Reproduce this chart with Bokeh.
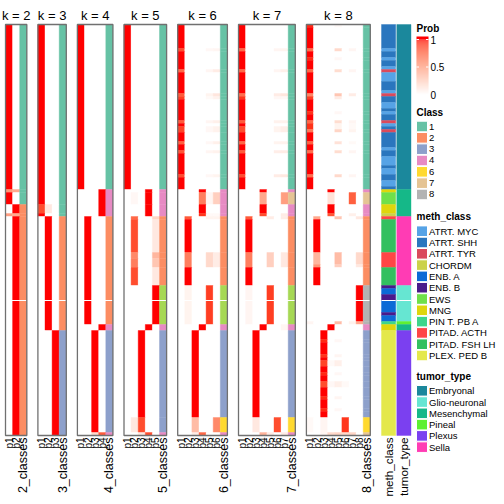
import numpy as np
from bokeh.plotting import figure
from bokeh.models import Range1d, ColumnDataSource
from bokeh.embed import file_html
from bokeh.resources import INLINE
from bokeh.core.properties import value

# ---------------- data ----------------
N_ROWS = 137

# per k: segments of consecutive rows -> (n_rows, class, [p1..pk])
k2_segments = [
    (55, 1, [1, 0]), (1, 1, [0.55, 0.45]), (4, 1, [1, 0]), (3, 2, [0, 1]),
    (1, 2, [0.5, 0.45]), (73, 2, [0, 1]),
]
k3_segments = [
    (60, 1, [1, 0, 0]), (3, 1, [0.85, 0.12, 0]), (1, 1, [1, 0, 0]),
    (38, 2, [0, 1, 0]), (35, 3, [0, 0, 1]),
]
k4_segments = [
    (55, 1, [1, 0, 0, 0]), (9, 4, [0, 0, 0, 1]), (36, 2, [0, 1, 0, 0]),
    (2, 4, [0, 0, 0, 1]), (34, 3, [0, 0, 1, 0]), (1, 4, [0, 0, 0.2, 0.8]),
]
k5_segments = [
    (55, 1, [1, 0, 0, 0, 0]), (1, 4, [0, 0, 0, 1, 0]), (4, 4, [0, 0.04, 0, 1, 0]),
    (4, 4, [0, 0, 0, 1, 0]), (1, 2, [0, 0.75, 0, 0, 0.22]), (11, 2, [0, 0.85, 0, 0, 0.12]),
    (2, 2, [0, 0.6, 0, 0, 0.38]), (3, 2, [0, 0.65, 0, 0, 0.3]), (6, 2, [0, 0.85, 0, 0, 0.12]),
    (13, 5, [0, 0, 0, 0, 1]), (2, 4, [0, 0, 0, 1, 0]), (29, 3, [0, 0, 1, 0, 0]),
    (5, 3, [0, 0.12, 0.85, 0, 0]), (1, 4, [0, 0, 0.12, 0.85, 0]),
]
k6_segments = [
    (8, 1, [1, 0, 0, 0, 0, 0]), (1, 1, [0.85, 0, 0, 0, 0.04, 0.05]), (6, 1, [1, 0, 0, 0, 0, 0]),
    (1, 1, [0.75, 0, 0, 0, 0.05, 0.1]), (7, 1, [1, 0, 0, 0, 0, 0]),
    (1, 1, [0.8, 0, 0, 0, 0.06, 0.13]), (1, 1, [0.9, 0, 0, 0, 0.03, 0.07]),
    (7, 1, [1, 0, 0, 0, 0, 0]), (1, 1, [0.8, 0, 0, 0, 0.05, 0.08]), (1, 1, [1, 0, 0, 0, 0, 0]),
    (2, 1, [0.88, 0, 0, 0, 0.04, 0.07]), (3, 1, [1, 0, 0, 0, 0, 0]),
    (1, 1, [0.78, 0, 0, 0, 0.04, 0.08]), (2, 1, [1, 0, 0, 0, 0, 0]),
    (1, 1, [0.82, 0, 0, 0, 0.05, 0.07]), (7, 1, [1, 0, 0, 0, 0, 0]),
    (1, 1, [0.85, 0, 0, 0, 0.04, 0.06]), (4, 1, [1, 0, 0, 0, 0, 0]),
    (1, 4, [0, 0, 0, 1, 0, 0]), (4, 4, [0, 0, 0, 0.65, 0.05, 0.25]), (3, 4, [0, 0, 0, 1, 0, 0]),
    (1, 4, [0, 0, 0, 0.92, 0.03, 0.03]), (1, 2, [0, 0.8, 0, 0, 0.06, 0.06]),
    (11, 2, [0, 1, 0, 0, 0, 0]), (5, 2, [0, 0.65, 0, 0, 0.2, 0.1]), (6, 2, [0, 1, 0, 0, 0, 0]),
    (13, 5, [0, 0.06, 0, 0, 0.9, 0]), (2, 4, [0, 0, 0, 1, 0, 0]), (29, 3, [0, 0, 1, 0, 0, 0]),
    (5, 6, [0, 0, 0.35, 0, 0, 0.6]), (1, 4, [0, 0, 0.1, 0.75, 0, 0]),
]
k7_segments = [
    (8, 1, [1, 0, 0, 0, 0, 0, 0]), (1, 1, [0.75, 0, 0, 0, 0, 0.05, 0.06]),
    (6, 1, [1, 0, 0, 0, 0, 0, 0]), (1, 1, [0.75, 0, 0, 0, 0, 0.05, 0.08]),
    (7, 1, [1, 0, 0, 0, 0, 0, 0]), (1, 1, [0.72, 0, 0, 0, 0, 0.1, 0.13]),
    (1, 1, [0.92, 0, 0, 0, 0, 0.04, 0.04]), (7, 1, [1, 0, 0, 0, 0, 0, 0]),
    (1, 1, [0.8, 0, 0, 0, 0, 0.07, 0.07]), (1, 1, [1, 0, 0, 0, 0, 0, 0]),
    (2, 1, [0.85, 0, 0, 0, 0, 0.06, 0.09]), (3, 1, [1, 0, 0, 0, 0, 0, 0]),
    (1, 1, [0.75, 0, 0, 0, 0, 0.06, 0.07]), (2, 1, [1, 0, 0, 0, 0, 0, 0]),
    (1, 1, [0.8, 0, 0, 0, 0, 0.09, 0.1]), (7, 1, [1, 0, 0, 0, 0, 0, 0]),
    (1, 1, [0.85, 0, 0, 0, 0, 0.1, 0.12]), (4, 1, [1, 0, 0, 0, 0, 0, 0]),
    (1, 4, [0, 0, 0, 1, 0, 0, 0]), (4, 7, [0, 0, 0, 0.45, 0, 0, 0.5]),
    (3, 4, [0, 0, 0, 1, 0, 0, 0]), (1, 4, [0, 0, 0, 0.85, 0, 0, 0.1]),
    (1, 2, [0, 0.8, 0, 0, 0.1, 0, 0.1]), (11, 2, [0, 1, 0, 0, 0, 0, 0]),
    (5, 2, [0, 0.65, 0, 0, 0.25, 0, 0.12]), (6, 2, [0, 1, 0, 0, 0, 0, 0]),
    (13, 5, [0, 0.05, 0, 0, 0.9, 0, 0]), (2, 4, [0, 0, 0, 1, 0, 0, 0.05]),
    (29, 3, [0, 0, 1, 0, 0, 0, 0]), (5, 6, [0, 0, 0.12, 0, 0, 0.85, 0]),
    (1, 4, [0, 0, 0, 0.4, 0.1, 0, 0.1]),
]
k8_segments = [
    (1, 1, [0.95, 0, 0, 0, 0.03, 0, 0, 0]), (7, 1, [1, 0, 0, 0, 0, 0, 0, 0]),
    (1, 1, [0.72, 0, 0, 0, 0.2, 0, 0.05, 0]), (2, 1, [1, 0, 0, 0, 0, 0, 0, 0]),
    (1, 1, [0.95, 0, 0, 0, 0.04, 0, 0, 0]), (3, 1, [1, 0, 0, 0, 0, 0, 0, 0]),
    (1, 1, [0.75, 0, 0, 0, 0.18, 0, 0.05, 0]), (7, 1, [1, 0, 0, 0, 0, 0, 0, 0]),
    (1, 1, [0.62, 0, 0, 0, 0.3, 0, 0.1, 0]), (1, 1, [0.9, 0, 0, 0, 0.1, 0, 0, 0]),
    (4, 1, [1, 0, 0, 0, 0, 0, 0, 0]), (1, 1, [0.93, 0, 0, 0, 0.04, 0, 0, 0]),
    (2, 1, [1, 0, 0, 0, 0, 0, 0, 0]), (1, 1, [0.75, 0, 0, 0, 0.18, 0, 0.05, 0]),
    (2, 1, [0.93, 0, 0, 0, 0.06, 0, 0.03, 0]), (1, 1, [0.68, 0, 0, 0, 0.22, 0, 0.06, 0]),
    (3, 1, [1, 0, 0, 0, 0, 0, 0, 0]), (1, 1, [0.78, 0, 0, 0, 0.15, 0, 0.03, 0]),
    (2, 1, [1, 0, 0, 0, 0, 0, 0, 0]), (1, 1, [0.72, 0, 0, 0, 0.18, 0, 0.05, 0]),
    (7, 1, [1, 0, 0, 0, 0, 0, 0, 0]), (1, 1, [0.72, 0, 0, 0, 0.2, 0, 0.05, 0]),
    (4, 1, [1, 0, 0, 0, 0, 0, 0, 0]),
    (1, 4, [0, 0, 0, 1, 0, 0, 0, 0]), (4, 7, [0, 0, 0, 0.15, 0, 0, 0.78, 0]),
    (3, 4, [0, 0, 0, 1, 0, 0, 0, 0]), (1, 4, [0, 0, 0, 0.82, 0, 0, 0.08, 0]),
    (1, 2, [0, 0.45, 0, 0, 0.3, 0, 0, 0.12]), (11, 2, [0, 1, 0, 0, 0, 0, 0, 0]),
    (4, 2, [0, 0.38, 0, 0, 0.35, 0, 0, 0.2]), (1, 2, [0, 0.55, 0, 0, 0.25, 0, 0, 0.12]),
    (6, 2, [0, 1, 0, 0, 0, 0, 0, 0]), (12, 8, [0, 0, 0, 0, 0, 0, 0, 1]),
    (1, 8, [0.05, 0, 0, 0, 0.35, 0, 0.07, 0.45]), (2, 4, [0, 0, 0, 1, 0, 0, 0, 0]),
    (3, 3, [0, 0, 1, 0, 0, 0, 0, 0]), (1, 3, [0, 0, 0.95, 0, 0.04, 0, 0, 0]),
    (4, 3, [0, 0, 1, 0, 0, 0, 0, 0]), (1, 3, [0, 0, 0.93, 0, 0.05, 0, 0, 0]),
    (1, 3, [0, 0, 1, 0, 0, 0, 0, 0]), (2, 3, [0, 0, 0.88, 0.03, 0.08, 0, 0, 0]),
    (2, 3, [0, 0, 1, 0, 0, 0, 0, 0]), (1, 3, [0, 0, 0.95, 0, 0.04, 0, 0, 0]),
    (2, 3, [0, 0, 1, 0, 0, 0, 0, 0]), (2, 3, [0, 0, 0.85, 0.04, 0.08, 0.03, 0, 0]),
    (3, 3, [0, 0, 1, 0, 0, 0, 0, 0]), (1, 3, [0, 0, 0.95, 0, 0.05, 0, 0, 0]),
    (3, 3, [0, 0, 1, 0, 0, 0, 0, 0]), (1, 3, [0, 0, 0.95, 0, 0.04, 0, 0, 0]),
    (2, 3, [0, 0, 1, 0, 0, 0, 0, 0]),
    (5, 6, [0.03, 0, 0.05, 0, 0, 0.92, 0, 0]), (1, 7, [0, 0, 0.05, 0.2, 0.22, 0.2, 0.22, 0]),
]
k_values = [2, 3, 4, 5, 6, 7, 8]
segments_by_k = [k2_segments, k3_segments, k4_segments, k5_segments,
                 k6_segments, k7_segments, k8_segments]

meth_runs = [
    ("ATRT. SHH", 8), ("ATRT. MYC", 1), ("ATRT. SHH", 2), ("ATRT. MYC", 1), ("ATRT. SHH", 2),
    ("ATRT. MYC", 1), ("ATRT. TYR", 1), ("ATRT. MYC", 3), ("ATRT. SHH", 3), ("ATRT. MYC", 1),
    ("ATRT. TYR", 1), ("ATRT. SHH", 2), ("ATRT. MYC", 2), ("ATRT. SHH", 1), ("ATRT. MYC", 1),
    ("ATRT. SHH", 2), ("ATRT. TYR", 1), ("ATRT. MYC", 1), ("ATRT. SHH", 1), ("ATRT. TYR", 1),
    ("ATRT. SHH", 5), ("ATRT. MYC", 1), ("ATRT. SHH", 2), ("ATRT. MYC", 3), ("ATRT. SHH", 1),
    ("ATRT. MYC", 2), ("ATRT. SHH", 2), ("ATRT. MYC", 2), ("ATRT. SHH", 1),
    ("MNG", 1), ("EWS", 4), ("MNG", 3), ("CHORDM", 1), ("PITAD. ACTH", 1),
    ("PITAD. FSH LH", 11), ("PITAD. ACTH", 5), ("PITAD. FSH LH", 6),
    ("ENB. B", 1), ("ENB. A", 2), ("ENB. B", 2), ("ENB. A", 4), ("ENB. B", 1), ("ENB. A", 2),
    ("PIN T. PB A", 1), ("MNG", 2), ("PLEX. PED B", 35),
]
tumor_runs = [
    ("Embryonal", 55), ("Mesenchymal", 9), ("Sella", 23), ("Glio-neuronal", 12),
    ("Pineal", 1), ("Mesenchymal", 2), ("Plexus", 35),
]

class_labels = ["1", "2", "3", "4", "6", "7", "8"]
meth_labels = ["ATRT. MYC", "ATRT. SHH", "ATRT. TYR", "CHORDM", "ENB. A", "ENB. B", "EWS",
               "MNG", "PIN T. PB A", "PITAD. ACTH", "PITAD. FSH LH", "PLEX. PED B"]
tumor_labels = ["Embryonal", "Glio-neuronal", "Mesenchymal", "Pineal", "Plexus", "Sella"]
prob_ticks = [1, 0.5, 0]
prob_tick_labels = ["1", "0.5", "0"]

# ---------------- styles ----------------
CLASS_COLORS = {1: "#66C2A5", 2: "#FC8D62", 3: "#8DA0CB", 4: "#E78AC3",
                5: "#A6D854", 6: "#FFD92F", 7: "#E5C494", 8: "#B3B3B3"}
METH_COLORS = {"ATRT. MYC": "#56A3E6", "ATRT. SHH": "#2A76BE", "ATRT. TYR": "#DA4A5C",
               "CHORDM": "#CBD24A", "ENB. A": "#0C6AD6", "ENB. B": "#4A1A8A",
               "EWS": "#6FE04A", "MNG": "#DFD60C", "PIN T. PB A": "#3ED68A",
               "PITAD. ACTH": "#FF4646", "PITAD. FSH LH": "#33C060", "PLEX. PED B": "#E4E84C"}
TUMOR_COLORS = {"Embryonal": "#1B889C", "Glio-neuronal": "#66E6D2", "Mesenchymal": "#15B888",
                "Pineal": "#5EF032", "Plexus": "#7B40F0", "Sella": "#FF3CB4"}

FONT = "Liberation Sans"

# LAB interpolation white -> red
_M = np.array([[0.4124564, 0.3575761, 0.1804375],
               [0.2126729, 0.7151522, 0.0721750],
               [0.0193339, 0.1191920, 0.9503041]])
_WP = np.array([0.95047, 1.0, 1.08883])


def _rgb2lab(rgb):
    c = np.array(rgb, float) / 255.0
    lin = np.where(c <= 0.04045, c / 12.92, ((c + 0.055) / 1.055) ** 2.4)
    xyz = _M @ lin / _WP
    d = 6 / 29
    f = np.where(xyz > d ** 3, np.cbrt(xyz), xyz / (3 * d * d) + 4 / 29)
    return np.array([116 * f[1] - 16, 500 * (f[0] - f[1]), 200 * (f[1] - f[2])])


def _lab2hex(lab):
    d = 6 / 29
    fy = (lab[0] + 16) / 116
    f = np.array([fy + lab[1] / 500, fy, fy - lab[2] / 200])
    xyz = np.where(f > d, f ** 3, 3 * d * d * (f - 4 / 29)) * _WP
    lin = np.clip(np.linalg.solve(_M, xyz), 0, 1)
    c = np.where(lin <= 0.0031308, 12.92 * lin, 1.055 * lin ** (1 / 2.4) - 0.055)
    c = np.clip(np.round(c * 255), 0, 255).astype(int)
    return "#%02x%02x%02x" % tuple(c)


_W = _rgb2lab([255, 255, 255])
_R = _rgb2lab([255, 0, 0])


def prob_color(v):
    return _lab2hex(_W + (_R - _W) * float(v))


# ---------------- layout (picture pixel coordinates) ----------------
SIZE = 496
TOP_Y, ROW_H = 24.0, 3.0
COLW, GAP, X_START = 7.1, 11.1, 5.0
GAP2, ANN_W, ANN_GAP = 11.2, 14.2, 1.1

p = figure(width=SIZE, height=SIZE, output_backend="svg", toolbar_location=None,
           x_axis_type=None, y_axis_type=None, min_border=0,
           x_range=Range1d(0, SIZE),
           y_range=Range1d((SIZE - TOP_Y) / ROW_H, (0 - TOP_Y) / ROW_H))
p.extra_y_ranges = {"px": Range1d(SIZE, 0)}
p.outline_line_color = None
p.xgrid.visible = False
p.ygrid.visible = False
p.background_fill_color = "white"

cells = dict(left=[], right=[], top=[], bottom=[], color=[])


def add_cell(l, r, t, b, c):
    cells["left"].append(l); cells["right"].append(r)
    cells["top"].append(t); cells["bottom"].append(b); cells["color"].append(c)


panel_boxes = []
labels_x, labels_t, labels_s = [], [], []
x0 = X_START
for k, segs in zip(k_values, segments_by_k):
    r = 0
    for n, cls, probs in segs:
        for j, pv in enumerate(probs):
            add_cell(x0 + j * COLW, x0 + (j + 1) * COLW, r, r + n, prob_color(pv))
        add_cell(x0 + k * COLW, x0 + (k + 1) * COLW, r, r + n, CLASS_COLORS[cls])
        r += n
    x1 = x0 + (k + 1) * COLW
    panel_boxes.append((k, x0, x1))
    for j in range(k):
        labels_x.append(x0 + (j + 0.5) * COLW); labels_t.append("p%d" % (j + 1)); labels_s.append("10px")
    labels_x.append(x0 + (k + 0.5) * COLW); labels_t.append("%d_classes" % k); labels_s.append("12.5px")
    x0 = x1 + GAP

METH_X = panel_boxes[-1][2] + GAP2
TUMOR_X = METH_X + ANN_W + ANN_GAP

r = 0
for lab, n in meth_runs:
    add_cell(METH_X, METH_X + ANN_W, r, r + n, METH_COLORS[lab])
    r += n
r = 0
for lab, n in tumor_runs:
    add_cell(TUMOR_X, TUMOR_X + ANN_W, r, r + n, TUMOR_COLORS[lab])
    r += n

p.quad(left="left", right="right", top="top", bottom="bottom", fill_color="color",
       line_color="color", line_width=0.4, source=ColumnDataSource(cells))

# thin white gap line seen in the reference
gx0 = [b[1] for b in panel_boxes] + [METH_X, TUMOR_X]
gx1 = [b[2] for b in panel_boxes] + [METH_X + ANN_W, TUMOR_X + ANN_W]
p.segment(x0=gx0, x1=gx1, y0=[92] * len(gx0), y1=[92] * len(gx0), line_color="white", line_width=1)

# panel borders
p.quad(left=[b[1] for b in panel_boxes], right=[b[2] for b in panel_boxes],
       top=[0] * len(panel_boxes), bottom=[N_ROWS] * len(panel_boxes),
       fill_color=None, line_color="#707070", line_width=1.3)

# titles
p.text(x=[(b[1] + b[2]) / 2 for b in panel_boxes], y=[15] * len(panel_boxes),
       text=["k = %d" % b[0] for b in panel_boxes], y_range_name="px",
       text_font=value(FONT), text_font_size="13px", text_align="center",
       text_baseline="alphabetic", text_color="black")

# bottom column labels (rotated)
labels_x += [METH_X + ANN_W / 2, TUMOR_X + ANN_W / 2]
labels_t += ["meth_class", "tumor_type"]
labels_s += ["11.7px", "11.7px"]
for sz in sorted(set(labels_s)):
    idx = [i for i, s in enumerate(labels_s) if s == sz]
    p.text(x=[labels_x[i] for i in idx], y=[437] * len(idx), text=[labels_t[i] for i in idx],
           y_range_name="px", angle=np.pi / 2, text_font=value(FONT), text_font_size=sz,
           text_align="right", text_baseline="middle", text_color="black")

# ---------------- legends ----------------
LX, LTX = 416.0, 428.5
heads_y = [28, 112, 216, 376]
p.text(x=[LX] * 4, y=heads_y, text=["Prob", "Class", "meth_class", "tumor_type"],
       y_range_name="px", text_font=value(FONT), text_font_size="10px",
       text_font_style="bold", text_baseline="middle", text_color="black")

# color bar
vs = np.linspace(0, 1, 56)
bar_y = lambda v: 94 - 55 * v
p.quad(left=[LX] * (len(vs) - 1), right=[LX + 12] * (len(vs) - 1),
       bottom=[bar_y(v) for v in vs[:-1]], top=[bar_y(v) for v in vs[1:]],
       fill_color=[prob_color((a + b) / 2) for a, b in zip(vs[:-1], vs[1:])],
       line_color=None, y_range_name="px")
p.quad(left=[LX], right=[LX + 12], bottom=[bar_y(1)], top=[36], fill_color=prob_color(1),
       line_color=None, y_range_name="px")
tick_ys = [bar_y(v) for v in prob_ticks]
p.segment(x0=[LX] * 3 + [LX + 9.5] * 3, x1=[LX + 2.5] * 3 + [LX + 12] * 3,
          y0=tick_ys * 2, y1=tick_ys * 2, line_color="white", line_width=1, y_range_name="px")
p.text(x=[LTX + 1.5] * 3, y=tick_ys, text=prob_tick_labels, y_range_name="px",
       text_font=value(FONT), text_font_size="10px", text_baseline="middle", text_color="black")


def legend_block(y0, step, labels, colors):
    ys = [y0 + i * step for i in range(len(labels))]
    p.quad(left=[LX] * len(ys), right=[LX + 11] * len(ys),
           top=[y - 5.3 for y in ys], bottom=[y + 5.3 for y in ys],
           fill_color=colors, line_color="white", line_width=1, y_range_name="px")
    p.text(x=[LTX] * len(ys), y=ys, text=labels, y_range_name="px",
           text_font=value(FONT), text_font_size="9.5px", text_baseline="middle",
           text_color="black")


legend_block(126.0, 11.33, class_labels, [CLASS_COLORS[int(c)] for c in class_labels])
legend_block(230.7, 11.3, meth_labels, [METH_COLORS[m] for m in meth_labels])
legend_block(390.3, 11.27, tumor_labels, [TUMOR_COLORS[t] for t in tumor_labels])

open("out.html", "w").write(file_html(p, INLINE))
